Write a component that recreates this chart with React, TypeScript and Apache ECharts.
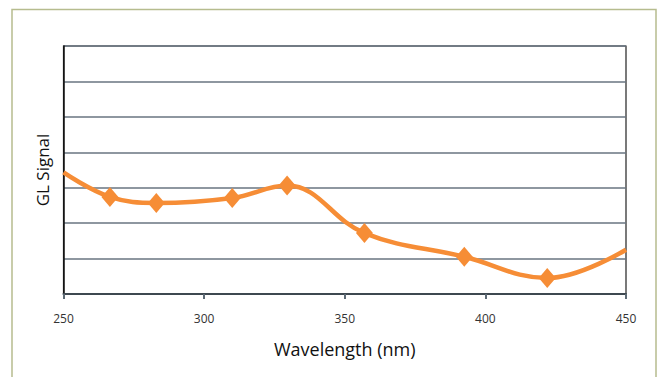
import React, { useEffect, useRef } from "react";
import * as echarts from "echarts";

// Wavelength sweep (nm) and the GL signal read at each point
const wavelengths = [250, 266.5, 283, 310, 329.5, 357, 392.5, 422, 450];
const signal = [3.43, 2.74, 2.57, 2.71, 3.06, 1.72, 1.05, 0.45, 1.25];
// First and last points continue the curve to the frame without a marker
const hasMarker = [false, true, true, true, true, true, true, true, false];

const xTicks = { min: 250, max: 450, interval: 50 };
const yTicks = { min: 0, max: 7, interval: 1 };

const ORANGE = "#f68d36";
const FONT = "'Open Sans', 'Noto Sans', sans-serif";

export default function App() {
  const ref = useRef<HTMLDivElement>(null);

  useEffect(() => {
    if (!ref.current) return;
    const chart = echarts.init(ref.current, null, { renderer: "svg" });
    const data = wavelengths.map((w, i) => ({
      value: [w, signal[i]],
      symbol: hasMarker[i] ? "diamond" : "none",
    }));
    chart.setOption({
      animation: false,
      backgroundColor: "#ffffff",
      textStyle: { fontFamily: FONT },
      graphic: [
        {
          type: "rect",
          shape: { x: 12, y: 9.5, width: 644, height: 420 },
          style: { fill: "none", stroke: "#b6bc8e", lineWidth: 1.5 },
          silent: true,
        },
      ],
      grid: {
        left: 63.5,
        right: 34,
        top: 46,
        bottom: 83,
        show: true,
        borderColor: "#222222",
        borderWidth: 1.2,
      },
      xAxis: {
        type: "value",
        min: xTicks.min,
        max: xTicks.max,
        interval: xTicks.interval,
        name: "Wavelength (nm)",
        nameLocation: "middle",
        nameGap: 46,
        nameTextStyle: { fontSize: 18, color: "#111111", fontFamily: FONT },
        axisLine: { show: true, lineStyle: { color: "#3e4850", width: 2 } },
        axisTick: { show: true, length: 5, lineStyle: { color: "#5d6a75", width: 2 } },
        axisLabel: { color: "#333333", fontSize: 12, margin: 18, fontFamily: FONT },
        splitLine: { show: false },
      },
      yAxis: {
        type: "value",
        min: yTicks.min,
        max: yTicks.max,
        interval: yTicks.interval,
        name: "GL Signal",
        nameLocation: "middle",
        nameGap: 13,
        nameTextStyle: { fontSize: 17, color: "#111111", fontFamily: FONT },
        axisLine: { show: true, lineStyle: { color: "#111111", width: 1.5 } },
        axisTick: { show: false },
        axisLabel: { show: false },
        splitLine: {
          show: true,
          lineStyle: { color: "#687580", width: 1.5 },
        },
      },
      series: [
        {
          type: "line",
          data,
          smooth: 0.4,
          symbolSize: [17, 20],
          showAllSymbol: true,
          lineStyle: { color: ORANGE, width: 4.5 },
          itemStyle: { color: ORANGE },
          z: 5,
        },
      ],
    });
    return () => chart.dispose();
  }, []);

  return (
    <div
      ref={ref}
      style={{ position: "absolute", left: 0, top: 0, width: 660, height: 377 }}
    />
  );
}
